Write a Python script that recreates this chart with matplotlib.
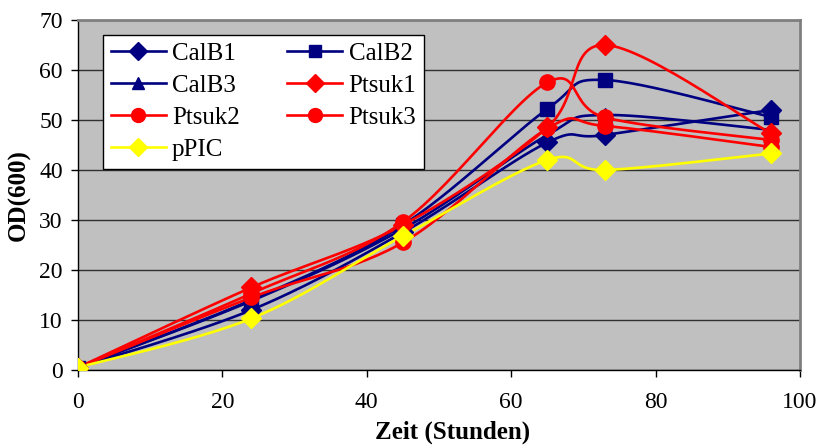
import numpy as np
import matplotlib
matplotlib.use("Agg")
import matplotlib.pyplot as plt

# ── Data ──────────────────────────────────────────────────────────────────────
hours = [0, 24, 45, 65, 73, 96]

calb1 = [0.5, 12.0, 27.5, 45.5, 47.0, 52.0]
calb2 = [0.5, 14.0, 29.0, 52.2, 58.0, 50.6]
calb3 = [0.5, 13.8, 28.2, 47.0, 51.0, 48.0]
ptsuk1 = [0.5, 16.5, 29.0, 48.5, 65.0, 47.3]
ptsuk2 = [0.5, 14.5, 25.5, 48.3, 48.8, 44.6]
ptsuk3 = [0.5, 15.3, 29.6, 57.5, 50.5, 46.0]
ppic = [0.5, 10.3, 26.8, 42.0, 40.0, 43.3]

series = [
    ("CalB1", calb1, "#000080", "D"),
    ("CalB2", calb2, "#000080", "s"),
    ("CalB3", calb3, "#000080", "^"),
    ("Ptsuk1", ptsuk1, "#FF0000", "D"),
    ("Ptsuk2", ptsuk2, "#FF0000", "o"),
    ("Ptsuk3", ptsuk3, "#FF0000", "o"),
    ("pPIC", ppic, "#FFFF00", "D"),
]


def smooth(x, y, n=30):
    """Excel-like smoothed line (Catmull-Rom as cubic Bezier)."""
    p = np.column_stack([x, y]).astype(float)
    pts = np.vstack([p[0], p, p[-1]])
    t = np.linspace(0, 1, n)[:, None]
    out = []
    for i in range(1, len(pts) - 2):
        p0, p1, p2, p3 = pts[i - 1], pts[i], pts[i + 1], pts[i + 2]
        c1 = p1 + (p2 - p0) / 6
        c2 = p2 - (p3 - p1) / 6
        seg = ((1 - t) ** 3) * p1 + 3 * ((1 - t) ** 2) * t * c1 \
            + 3 * (1 - t) * t ** 2 * c2 + t ** 3 * p2
        out.append(seg if i == 1 else seg[1:])
    out = np.vstack(out)
    return out[:, 0], out[:, 1]


# ── Figure ────────────────────────────────────────────────────────────────────
plt.rcParams["font.family"] = ["Liberation Serif", "DejaVu Serif"]

fig = plt.figure(figsize=(8.23, 4.46), dpi=100)
ax = fig.add_axes([0.0948, 0.1704, 0.8772, 0.7848])
ax.set_facecolor("#C0C0C0")

for name, vals, col, mk in series:
    xs, ys = smooth(hours, vals)
    ax.plot(xs, ys, color=col, linewidth=1.9, zorder=3)
    ax.plot(hours, vals, linestyle="none", marker=mk, color=col,
            markersize=10 if mk != "o" else 11, zorder=4)

# legend proxies (line + marker), arranged so rows read left to right
handles = {}
for name, vals, col, mk in series:
    h, = ax.plot([], [], color=col, linewidth=1.9, marker=mk,
                 markersize=9 if mk != "o" else 10, label=name)
    handles[name] = h
order = ["CalB1", "CalB3", "Ptsuk2", "pPIC", "CalB2", "Ptsuk1", "Ptsuk3"]

ax.set_xlim(0, 100)
ax.set_ylim(0, 70)
ax.set_xticks(range(0, 101, 20))
ax.set_yticks(range(0, 71, 10))
ax.yaxis.grid(True, color="#303030", linewidth=1)
ax.set_axisbelow(True)

ax.tick_params(axis="x", direction="out", length=5, width=1, pad=11, labelsize=17)
ax.tick_params(axis="y", direction="out", length=5, width=1, pad=6, labelsize=17)

for side in ["left", "bottom"]:
    ax.spines[side].set_color("black")
    ax.spines[side].set_linewidth(1)
for side in ["top", "right"]:
    ax.spines[side].set_color("#808080")
    ax.spines[side].set_linewidth(2)

ax.set_xlabel("Zeit (Stunden)", fontsize=18, fontweight="bold")
ax.xaxis.set_label_coords(0.519, -0.145)
ax.set_ylabel("OD(600)", fontsize=18, fontweight="bold", labelpad=6)

leg = ax.legend(handles=[handles[k] for k in order], ncol=2, loc="upper left",
                bbox_to_anchor=(0.035, 0.957), borderaxespad=0, fontsize=18,
                frameon=True, fancybox=False, edgecolor="black", framealpha=1,
                handlelength=2.2, columnspacing=1.9, labelspacing=0.38,
                handletextpad=0.25, borderpad=0.3)
leg.get_frame().set_linewidth(1)
leg.set_zorder(5)

fig.savefig("out.png", dpi=100)
